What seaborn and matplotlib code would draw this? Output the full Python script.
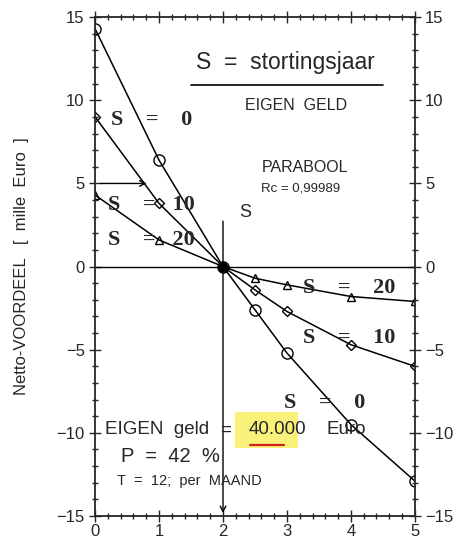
import numpy as np
import pandas as pd
import seaborn as sns
import matplotlib.pyplot as plt
from matplotlib.ticker import MultipleLocator
from matplotlib.patches import Rectangle

# storting year series
jaar = [0, 1, 2, 2.5, 3, 4, 5]
s0 = [14.3, 6.4, 0, -2.6, -5.2, -9.5, -12.9]
s10 = [9.0, 3.8, 0, -1.4, -2.7, -4.7, -6.0]
s20 = [4.3, 1.6, 0, -0.7, -1.1, -1.8, -2.1]
y_ticks = [-15, -10, -5, 0, 5, 10, 15]
x_ticks = [0, 1, 2, 3, 4, 5]

sns.set_style("ticks")
plt.rcParams['font.family'] = ['Liberation Sans', 'DejaVu Sans']

fig = plt.figure(figsize=(4.64, 5.38), dpi=100)
ax = fig.add_axes([0.205, 0.041, 0.689, 0.927])

series = {'0': (s0, 'o', 8), '10': (s10, 'D', 5), '20': (s20, '^', 6)}
for naam, (vals, mk, ms) in series.items():
    sns.lineplot(x=jaar, y=vals, ax=ax, color='black', lw=1.1, marker=mk,
                 markersize=ms, markerfacecolor='none', markeredgecolor='black',
                 markeredgewidth=1.0)

ax.plot([2], [0], 'o', color='black', markersize=6)
ax.axhline(0, color='black', lw=1.0)
ax.annotate('', xy=(2, -15), xytext=(2, 2.9),
            arrowprops=dict(arrowstyle='->', color='black', lw=1.0))
ax.annotate('', xy=(0.85, 5.0), xytext=(0.05, 5.0),
            arrowprops=dict(arrowstyle='->', color='black', lw=1.0))

ax.set_xlim(0, 5)
ax.set_ylim(-15, 15)
ax.set_xticks(x_ticks)
ax.set_yticks(y_ticks)
ax.set_yticklabels([str(v).replace('-', '\u2212') for v in y_ticks])
ax.xaxis.set_minor_locator(MultipleLocator(0.2))
ax.yaxis.set_minor_locator(MultipleLocator(1))
ax.tick_params(which='both', direction='inout', top=True, right=True,
               labelright=True, labelsize=12, width=1.0)
ax.tick_params(which='major', length=8)
ax.tick_params(which='minor', length=5)
ax.tick_params(axis='x', pad=2)
for sp in ax.spines.values():
    sp.set_linewidth(1.3)
ax.set_xlabel('')
ax.set_ylabel('Netto-VOORDEEL   [  mille  Euro  ]', fontsize=12, labelpad=20)

# header texts
ax.text(2.97, 11.9, 'S  =  stortingsjaar', fontsize=16.5, ha='center')
ax.plot([1.5, 4.5], [10.9, 10.9], color='black', lw=1.2)
ax.text(2.35, 9.4, 'EIGEN  GELD', fontsize=11.5)
ax.text(2.6, 5.7, 'PARABOOL', fontsize=11.5)
ax.text(2.6, 4.5, 'Rc = 0,99989', fontsize=9.5)
ax.text(2.25, 3.0, 'S', fontsize=13)

# curve labels
bold = dict(family=['Liberation Serif', 'DejaVu Serif'], fontweight='bold', fontsize=16)
ax.text(0.25, 8.5, 'S    =    0', **bold)
ax.text(0.2, 3.4, 'S    =   10', **bold)
ax.text(0.2, 1.3, 'S    =   20', **bold)
ax.text(3.25, -1.6, 'S    =    20', **bold)
ax.text(3.25, -4.6, 'S    =    10', **bold)
ax.text(2.95, -8.5, 'S    =    0', **bold)

# bottom info block
ax.add_patch(Rectangle((2.19, -10.9), 0.98, 2.15, facecolor='#f8f27a',
                       edgecolor='none', zorder=0))
ax.text(0.15, -10.1, 'EIGEN  geld', fontsize=13.5)
ax.text(1.95, -10.1, '=', fontsize=13.5)
ax.text(2.4, -10.1, '40.000', fontsize=13.5)
ax.text(3.62, -10.1, 'Euro', fontsize=13.5)
ax.plot([2.42, 2.95], [-10.75, -10.75], color='#d22020', lw=1.6)
ax.text(0.4, -11.75, 'P  =  42  %', fontsize=14.5)
ax.text(0.35, -13.15, 'T  =  12;  per  MAAND', fontsize=10.5)

fig.savefig('out.png', dpi=100)
